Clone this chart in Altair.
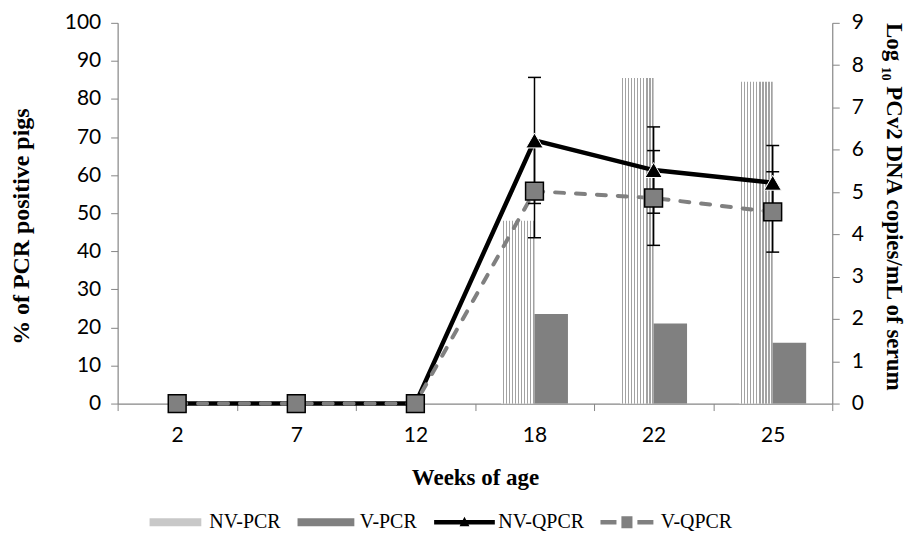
import altair as alt
import pandas as pd

# ---- data ----
weeks = ["2", "7", "12", "18", "22", "25"]
nv_pcr = [0, 0, 0, 48, 85.5, 84.5]
v_pcr = [0, 0, 0, 23.5, 21, 16]
nv_qpcr = [0, 0, 0, 6.22, 5.52, 5.22]
nv_qpcr_err = [0, 0, 0, 1.49, 1.02, 0.88]
v_qpcr = [0, 0, 0, 5.02, 4.86, 4.53]
v_qpcr_err = [0, 0, 0, 1.10, 1.12, 0.95]
series = ["NV-PCR", "V-PCR", "NV-QPCR", "V-QPCR"]

pcr_df = pd.DataFrame({
    "week": weeks * 2,
    "series": ["NV-PCR"] * len(weeks) + ["V-PCR"] * len(weeks),
    "pct": nv_pcr + v_pcr,
})
q_df = pd.DataFrame({
    "week": weeks * 2,
    "series": ["NV-QPCR"] * len(weeks) + ["V-QPCR"] * len(weeks),
    "mean": nv_qpcr + v_qpcr,
    "err": nv_qpcr_err + v_qpcr_err,
})
legend_df = pd.DataFrame({"series": series})

# ---- styling ----
AX = "#868686"
SERIF = "Liberation Serif"
SANS = "Lato"

x_axis = alt.Axis(title="Weeks of age", labelAngle=0, tickBand="extent",
                  domainColor=AX, tickColor=AX, tickSize=7, domainWidth=1.2,
                  labelFont=SANS, labelFontSize=21, labelColor="black", labelPadding=14,
                  titleFont=SERIF, titleFontSize=23, titleFontWeight="bold",
                  titleColor="black", titlePadding=21)
x_enc = alt.X("week:N", sort=weeks, scale=alt.Scale(paddingInner=0, paddingOuter=0), axis=x_axis)

left_axis = alt.Axis(title="% of PCR positive pigs", values=list(range(0, 101, 10)), grid=False,
                     domainColor=AX, tickColor=AX, tickSize=7, domainWidth=1.2,
                     labelFont=SANS, labelFontSize=21, labelColor="black", labelPadding=10,
                     titleFont=SERIF, titleFontSize=24, titleFontWeight="bold",
                     titleColor="black", titlePadding=31, titleY=204)
right_axis = alt.Axis(title="Log ₁₀ PCv2 DNA copies/mL of serum", orient="right",
                      values=list(range(0, 10)), grid=False,
                      domainColor=AX, tickColor=AX, tickSize=7, domainWidth=1.2,
                      labelFont=SANS, labelFontSize=21, labelColor="black", labelPadding=12,
                      titleFont=SERIF, titleFontSize=23, titleFontWeight="bold",
                      titleColor="black", titlePadding=18, titleY=184)

xoff = alt.XOffset("series:N", scale=alt.Scale(domain=["NV-PCR", "V-PCR"], paddingInner=0, paddingOuter=0.78))
y_left = alt.Y("pct:Q", scale=alt.Scale(domain=[0, 100]), axis=left_axis)

n = 11
stops = []
for i in range(n):
    a = i / n
    stops += [
        alt.GradientStop(offset=a, color="#ffffff"),
        alt.GradientStop(offset=a + 0.55 / n, color="#ffffff"),
        alt.GradientStop(offset=a + 0.55 / n, color="#a2a2a2"),
        alt.GradientStop(offset=(i + 1) / n, color="#a2a2a2"),
    ]
dots = alt.LinearGradient(gradient="linear", x1=0, x2=1, y1=0, y2=0, stops=stops)

bars_nv = alt.Chart(pcr_df).transform_filter(alt.datum.series == "NV-PCR").mark_bar(
    fill=dots, opacity=1).encode(x=x_enc, xOffset=xoff, y=y_left)
bars_v = alt.Chart(pcr_df).transform_filter(alt.datum.series == "V-PCR").mark_bar(
    fill="#808080", opacity=1).encode(x=x_enc, xOffset=xoff, y=y_left)
left_group = alt.layer(bars_nv, bars_v)

y_right = alt.Y("mean:Q", scale=alt.Scale(domain=[0, 9]), axis=right_axis)
base_q = alt.Chart(q_df)

line_nv = base_q.transform_filter(alt.datum.series == "NV-QPCR").mark_line(
    color="black", strokeWidth=4.5).encode(x=x_enc, y=y_right)
line_v = base_q.transform_filter(alt.datum.series == "V-QPCR").mark_line(
    color="#808080", strokeWidth=4, strokeDash=[9, 12], strokeCap="round").encode(x=x_enc, y=y_right)

err_base = base_q.transform_filter(alt.datum.err > 0).transform_calculate(
    lo="datum.mean - datum.err", hi="datum.mean + datum.err")
y_lo = alt.Y("lo:Q", scale=alt.Scale(domain=[0, 9]), axis=right_axis)
y_hi = alt.Y("hi:Q", scale=alt.Scale(domain=[0, 9]), axis=right_axis)
err_rule = err_base.mark_rule(color="black", strokeWidth=1.5).encode(x=x_enc, y=y_lo, y2="hi:Q")
cap_hi = err_base.mark_tick(color="black", thickness=1.5, size=13, opacity=1).encode(x=x_enc, y=y_hi)
cap_lo = err_base.mark_tick(color="black", thickness=1.5, size=13, opacity=1).encode(x=x_enc, y=y_lo)

tri = base_q.transform_filter(alt.datum.series == "NV-QPCR").mark_point(
    shape="triangle-up", filled=True, fill="black", stroke="white", strokeWidth=1,
    size=300, opacity=1).encode(x=x_enc, y=y_right)
sq = base_q.transform_filter(alt.datum.series == "V-QPCR").mark_square(
    fill="#808080", stroke="black", strokeWidth=1.5, size=320, opacity=1).encode(x=x_enc, y=y_right)

# legend (symbols via custom shapes)
shapes = [
    "M-1.73,-0.27H1.73V0.27H-1.73Z",
    "M-1.9,-0.27H1.9V0.27H-1.9Z",
    "M-2.03,-0.15H2.03V0.15H-2.03Z M-0.33,0.27L0,-0.36L0.33,0.27Z",
    "M-1.77,-0.15H-0.7V0.15H-1.77Z M0.7,-0.15H1.77V0.15H0.7Z M-0.37,-0.4H0.37V0.4H-0.37Z",
]
fills = ["#c8c8c8", "#808080", "#000000", "#808080"]
leg = alt.Legend(title=None, orient="none", legendX=43, legendY=486, direction="horizontal",
                 columns=4, symbolSize=900, symbolStrokeWidth=0, symbolOpacity=1,
                 labelFont=SERIF, labelFontSize=20, labelColor="black", labelOffset=19,
                 columnPadding=16, padding=0)
dummy = alt.Chart(legend_df).transform_filter(alt.datum.series == "none").mark_point(
    filled=True, opacity=1).encode(
    fill=alt.Fill("series:N", scale=alt.Scale(domain=series, range=fills), legend=leg),
    shape=alt.Shape("series:N", scale=alt.Scale(domain=series, range=shapes), legend=leg),
)

right_group = alt.layer(line_nv, line_v, err_rule, cap_hi, cap_lo, tri, sq, dummy)

chart = alt.layer(left_group, right_group).resolve_scale(y="independent").properties(
    width=717, height=382,
    autosize=alt.AutoSizeParams(type="none"),
    padding={"left": 110, "top": 14, "right": 76, "bottom": 136},
    background="white",
).configure_view(stroke=None)

chart.save("out.html", embed_options={"renderer": "svg", "actions": False})
